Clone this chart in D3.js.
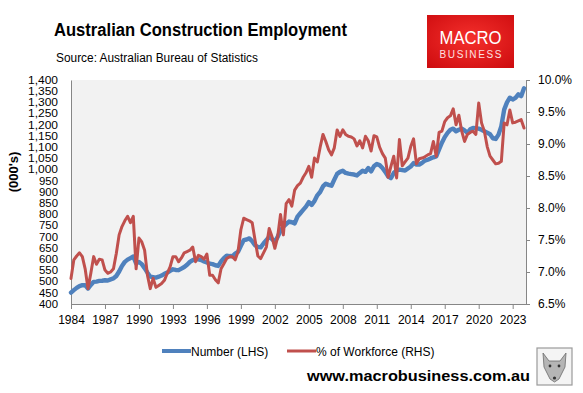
<!DOCTYPE html>
<html>
<head>
<meta charset="utf-8">
<script src="https://cdn.jsdelivr.net/npm/d3@7"></script>
<style>
  body { margin: 0; background: #fff; }
  svg { display: block; font-family: "Liberation Sans", Arial, sans-serif; }
</style>
</head>
<body>
<script>
// quarterly data, first point Nov 1984
var firstYear = 1984;
var xTickLabels = ["1984", "1987", "1990", "1993", "1996", "1999", "2002", "2005", "2008", "2011", "2014", "2017", "2020", "2023"];
var leftTicks = [400, 450, 500, 550, 600, 650, 700, 750, 800, 850, 900, 950, 1000, 1050, 1100, 1150, 1200, 1250, 1300, 1350, 1400];
var rightTicks = [6.5, 7.0, 7.5, 8.0, 8.5, 9.0, 9.5, 10.0];

// Number employed (000's), LHS
var number = [
  451, 462, 472, 480, 484, 484, 469, 485, 499, 500, 503, 504, 506, 505, 510, 514, 525, 545, 570, 588,
  598, 605, 612, 581, 588, 578, 560, 540, 522, 520, 518, 522, 527, 535, 540, 548, 555, 552, 551, 558,
  565, 575, 588, 596, 600, 599, 596, 590, 585, 580, 578, 573, 570, 590, 605, 616, 614, 613, 625, 633,
  660, 685, 688, 693, 680, 662, 655, 653, 670, 685, 700, 690, 678, 700, 727, 745, 757, 768, 765, 760,
  790, 805, 820, 835, 855, 842, 860, 885, 900, 925, 937, 932, 928, 955, 981, 990, 995, 985, 982, 980,
  978, 974, 985, 995, 990, 1007, 992, 1015, 1025, 1020, 1007, 990, 970, 962, 985, 996, 1000, 998, 996, 1005,
  1014, 1029, 1022, 1022, 1030, 1040, 1044, 1050, 1055, 1059, 1090, 1120, 1145, 1164, 1178, 1183, 1171, 1178, 1183, 1175,
  1164, 1180, 1186, 1185, 1183, 1178, 1171, 1165, 1158, 1140, 1137, 1156, 1194, 1268, 1300, 1321, 1313, 1320, 1336, 1328,
  1363
];

// % of workforce, RHS
var share = [
  6.90, 7.19, 7.25, 7.30, 7.24, 7.05, 6.74, 6.98, 7.24, 7.12, 7.20, 7.19, 7.03, 6.98, 7.00, 7.05, 7.29, 7.58, 7.71, 7.80,
  7.87, 7.77, 7.87, 7.05, 7.53, 7.47, 7.34, 6.95, 6.74, 6.90, 6.76, 6.79, 6.82, 6.87, 6.98, 7.08, 7.24, 7.24, 7.16, 7.22,
  7.30, 7.32, 7.34, 7.39, 7.16, 7.26, 7.24, 7.20, 7.28, 6.95, 6.95, 6.88, 6.83, 7.05, 7.13, 7.21, 7.24, 7.24, 7.19, 7.32,
  7.66, 7.84, 7.82, 7.80, 7.77, 7.50, 7.25, 7.21, 7.30, 7.39, 7.68, 7.55, 7.37, 7.55, 7.90, 7.58, 8.07, 8.13, 8.03, 8.28,
  8.35, 8.39, 8.48, 8.55, 8.65, 8.48, 8.78, 8.72, 8.95, 9.15, 9.04, 8.91, 8.83, 8.94, 9.22, 9.12, 9.22, 9.15, 9.12, 9.11,
  9.08, 8.97, 9.05, 8.94, 9.12, 9.05, 8.89, 9.13, 9.11, 8.95, 8.85, 8.78, 8.48, 8.65, 8.81, 8.47, 9.07, 8.66, 8.72, 8.78,
  8.96, 9.08, 8.69, 8.77, 8.78, 8.80, 8.83, 8.85, 9.04, 8.81, 9.18, 9.20, 9.35, 9.41, 9.44, 9.55, 9.30, 9.45, 9.20, 9.04,
  9.15, 9.18, 9.20, 9.15, 9.64, 9.33, 9.20, 8.96, 8.81, 8.75, 8.69, 8.70, 8.73, 9.33, 9.30, 9.53, 9.33, 9.34, 9.36, 9.38,
  9.25
];

var W = 583, H = 393;
var plot = {left: 71, right: 526, top: 80, bottom: 304};
var axisGrey = "#868686";

var svg = d3.select("body").append("svg")
    .attr("width", W)
    .attr("height", H);

// scales
var x = d3.scaleLinear()
    .domain([0, 160])
    .range([plot.left, 524]);
var yL = d3.scaleLinear().domain([400, 1400]).range([plot.bottom, plot.top]);
var yR = d3.scaleLinear().domain([6.5, 10]).range([plot.bottom, plot.top]);

// title block
svg.append("text")
    .attr("x", 54).attr("y", 36)
    .style("font-size", "17.5px").style("font-weight", "bold")
    .attr("textLength", 293).attr("lengthAdjust", "spacingAndGlyphs")
    .text("Australian Construction Employment");
svg.append("text")
    .attr("x", 56).attr("y", 62)
    .style("font-size", "12.5px")
    .attr("textLength", 202).attr("lengthAdjust", "spacingAndGlyphs")
    .text("Source: Australian Bureau of Statistics");

// logo
var grad = svg.append("defs").append("radialGradient")
    .attr("id", "logoGrad").attr("cx", "50%").attr("cy", "45%").attr("r", "70%");
grad.append("stop").attr("offset", "0%").attr("stop-color", "#f5302c");
grad.append("stop").attr("offset", "100%").attr("stop-color", "#cf0d10");
svg.append("rect")
    .attr("x", 427).attr("y", 15).attr("width", 87).attr("height", 53)
    .attr("fill", "url(#logoGrad)");
svg.append("text")
    .attr("x", 470.5).attr("y", 44).attr("text-anchor", "middle")
    .attr("fill", "#fff").style("font-size", "18px")
    .attr("textLength", 62).attr("lengthAdjust", "spacingAndGlyphs")
    .text("MACRO");
svg.append("text")
    .attr("x", 470.5).attr("y", 58).attr("text-anchor", "middle")
    .attr("fill", "#fde0e0").style("font-size", "10px")
    .attr("textLength", 62).attr("lengthAdjust", "spacing")
    .text("BUSINESS");

// plot background
svg.append("rect")
    .attr("x", plot.left).attr("y", plot.top)
    .attr("width", plot.right - plot.left).attr("height", plot.bottom - plot.top)
    .attr("fill", "#f2f2f2");

// left axis
var gL = svg.append("g")
    .attr("transform", "translate(" + plot.left + ",0)")
    .call(d3.axisLeft(yL).tickValues(leftTicks).tickSize(0).tickPadding(13)
        .tickFormat(d3.format(",")));
gL.select(".domain").attr("stroke", axisGrey);
gL.selectAll("text").style("font-size", "10px").attr("fill", "#000")
    .attr("textLength", 30).attr("lengthAdjust", "spacingAndGlyphs")
    .style("font-family", "Liberation Sans, Arial, sans-serif");
gL.selectAll("text").filter(function(d) { return d < 1000; })
    .attr("textLength", 19);

svg.append("text")
    .attr("transform", "translate(18,172) rotate(-90)")
    .attr("text-anchor", "middle")
    .style("font-size", "13px").style("font-weight", "bold")
    .text("(000's)");

// right axis
var gR = svg.append("g")
    .attr("transform", "translate(" + plot.right + ",0)")
    .call(d3.axisRight(yR).tickValues(rightTicks).tickSize(4).tickSizeOuter(0).tickPadding(8));
gR.selectAll("text").text(function(d) { return d.toFixed(1) + "%"; });
gR.selectAll("line, .domain").attr("stroke", axisGrey);
gR.selectAll("text").style("font-size", "12px").attr("fill", "#000")
    .style("font-family", "Liberation Sans, Arial, sans-serif");

// x axis
var gX = svg.append("g")
    .attr("transform", "translate(0," + plot.bottom + ")")
    .call(d3.axisBottom(x)
        .tickValues(xTickLabels.map(function(d, i) { return i * 12; }))
        .tickSize(5).tickSizeOuter(0).tickPadding(6)
        .tickFormat(function(d, i) { return xTickLabels[i]; }));
gX.select(".domain").attr("d", "M" + plot.left + ",0.5H" + plot.right);
gX.selectAll("line, .domain").attr("stroke", axisGrey);
gX.selectAll("text").style("font-size", "12px").attr("fill", "#000")
    .style("font-family", "Liberation Sans, Arial, sans-serif");

// lines
var lineL = d3.line()
    .x(function(d, i) { return x(i); })
    .y(function(d) { return yL(d); });
var lineR = d3.line()
    .x(function(d, i) { return x(i); })
    .y(function(d) { return yR(d); });

svg.append("path")
    .datum(number)
    .attr("d", lineL)
    .attr("fill", "none")
    .attr("stroke", "#4f81bd")
    .attr("stroke-width", 4.4)
    .attr("stroke-linejoin", "round")
    .attr("stroke-linecap", "round");

svg.append("path")
    .datum(share)
    .attr("d", lineR)
    .attr("fill", "none")
    .attr("stroke", "#c0504d")
    .attr("stroke-width", 3)
    .attr("stroke-linejoin", "round")
    .attr("stroke-linecap", "round");

// legend
var legend = [
  {name: "Number (LHS)", color: "#4f81bd", width: 4, x: 162},
  {name: "% of Workforce (RHS)", color: "#c0504d", width: 3, x: 287}
];
var lg = svg.selectAll(".legend")
    .data(legend)
    .enter().append("g")
    .attr("class", "legend")
    .attr("transform", function(d) { return "translate(" + d.x + ",351)"; });
lg.append("line")
    .attr("x1", 0).attr("x2", 29)
    .attr("stroke", function(d) { return d.color; })
    .attr("stroke-width", function(d) { return d.width; });
lg.append("text")
    .attr("x", 29).attr("y", 4.5)
    .style("font-size", "12px")
    .text(function(d) { return d.name; });

// footer
svg.append("text")
    .attr("x", 307).attr("y", 381)
    .style("font-size", "15.5px").style("font-weight", "bold")
    .attr("textLength", 223).attr("lengthAdjust", "spacingAndGlyphs")
    .text("www.macrobusiness.com.au");

// fox badge
var fox = svg.append("g").attr("transform", "translate(537,348)");
fox.append("rect")
    .attr("width", 35).attr("height", 37)
    .attr("fill", "#f4f4f4").attr("stroke", "#9a9a9a").attr("stroke-width", 1.2);
fox.append("path")
    .attr("d", "M6,5 L12,13 L23,13 L29,5 L28,19 L22,31 L17.5,34 L13,31 L7,19 Z")
    .attr("fill", "#b5b5b5").attr("stroke", "#6b6b6b").attr("stroke-width", 0.8);
fox.append("circle").attr("cx", 13).attr("cy", 18).attr("r", 1.4).attr("fill", "#333");
fox.append("circle").attr("cx", 22).attr("cy", 18).attr("r", 1.4).attr("fill", "#333");
fox.append("circle").attr("cx", 17.5).attr("cy", 30).attr("r", 1.6).attr("fill", "#333");
</script>
</body>
</html>
